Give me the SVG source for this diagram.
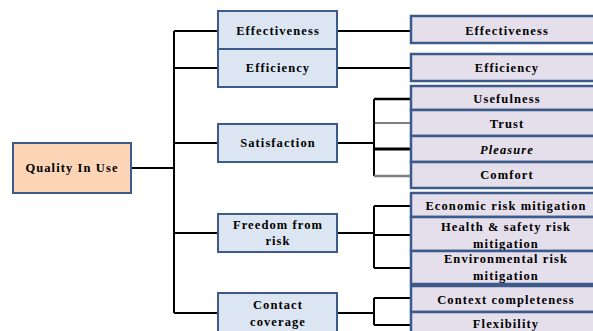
<svg xmlns="http://www.w3.org/2000/svg" width="593" height="331" viewBox="0 0 593 331">
<style>
text{font-family:"Liberation Serif","Times New Roman",serif;font-weight:bold;font-size:12.5px;letter-spacing:1.1px;fill:#000;text-anchor:middle}
.root rect{fill:#fbd5b5;stroke:#3d5b8a;stroke-width:2}
.l2 rect{fill:#dce6f2;stroke:#3d5b8a;stroke-width:2}
.l3 rect{fill:#e5dfec;stroke:#3d5b8a;stroke-width:2.5}
.c{stroke:#000;stroke-width:2;fill:none}
</style>
<rect width="593" height="331" fill="#fff"/>
<g id="connectors">
<path class="c" d="M131 168H174M174 31V313M174 31H218M174 68H218M174 143H218M174 233H218M174 313H218"/>
<path class="c" d="M337 31H411M337 68H411"/>
<path class="c" d="M337 143H374M374 99V176"/>
<path d="M374 99H411" stroke="#000" stroke-width="2.5"/>
<path d="M374 123H411" stroke="#000" stroke-width="1"/>
<path d="M374 149H411" stroke="#000" stroke-width="3"/>
<path d="M374 176H411" stroke="#808080" stroke-width="2.5"/>
<path class="c" d="M337 233H374M374 206V268M374 206H411M374 235H411M374 268H411"/>
<path class="c" d="M337 313H374M374 298V325M374 298H411M374 325H411"/>
</g>
<g id="quality-in-use" class="root"><rect x="13" y="143" width="118" height="50"/><text x="72" y="172">Quality In Use</text></g>
<g id="effectiveness" class="l2"><rect x="218" y="11" width="119" height="38"/><text x="278" y="35">Effectiveness</text></g>
<g id="efficiency" class="l2"><rect x="218" y="49" width="119" height="38"/><text x="278" y="72">Efficiency</text></g>
<g id="satisfaction" class="l2"><rect x="218" y="124" width="119" height="38"/><text x="278" y="147">Satisfaction</text></g>
<g id="freedom-from-risk" class="l2"><rect x="218" y="214" width="119" height="38"/><text x="278" y="229">Freedom from</text><text x="278" y="245">risk</text></g>
<g id="contact-coverage" class="l2"><rect x="218" y="293" width="119" height="42"/><text x="278" y="309">Contact</text><text x="278" y="326">coverage</text></g>
<g id="effectiveness-2" class="l3"><rect x="411" y="16" width="192" height="27"/><text x="507" y="35">Effectiveness</text></g>
<g id="efficiency-2" class="l3"><rect x="411" y="54" width="192" height="27"/><text x="507" y="72">Efficiency</text></g>
<g id="usefulness" class="l3"><rect x="411" y="86" width="192" height="24"/><text x="507" y="103">Usefulness</text></g>
<g id="trust" class="l3"><rect x="411" y="110" width="192" height="26"/><text x="507" y="128">Trust</text></g>
<g id="pleasure" class="l3"><rect x="411" y="136" width="192" height="26"/><text x="507" y="154" font-style="italic">Pleasure</text></g>
<g id="comfort" class="l3"><rect x="411" y="162" width="192" height="26"/><text x="507" y="179">Comfort</text></g>
<g id="economic" class="l3"><rect x="411" y="193" width="192" height="24"/><text x="506" y="210">Economic risk mitigation</text></g>
<g id="health" class="l3"><rect x="411" y="217" width="192" height="34"/><text x="506" y="231">Health &amp; safety risk</text><text x="506" y="248">mitigation</text></g>
<g id="environmental" class="l3"><rect x="411" y="251" width="192" height="33"/><text x="506" y="263">Environmental risk</text><text x="506" y="280">mitigation</text></g>
<g id="context-completeness" class="l3"><rect x="411" y="286" width="192" height="26"/><text x="506" y="304">Context completeness</text></g>
<g id="flexibility" class="l3"><rect x="411" y="312" width="192" height="26"/><text x="506" y="328">Flexibility</text></g>
</svg>
